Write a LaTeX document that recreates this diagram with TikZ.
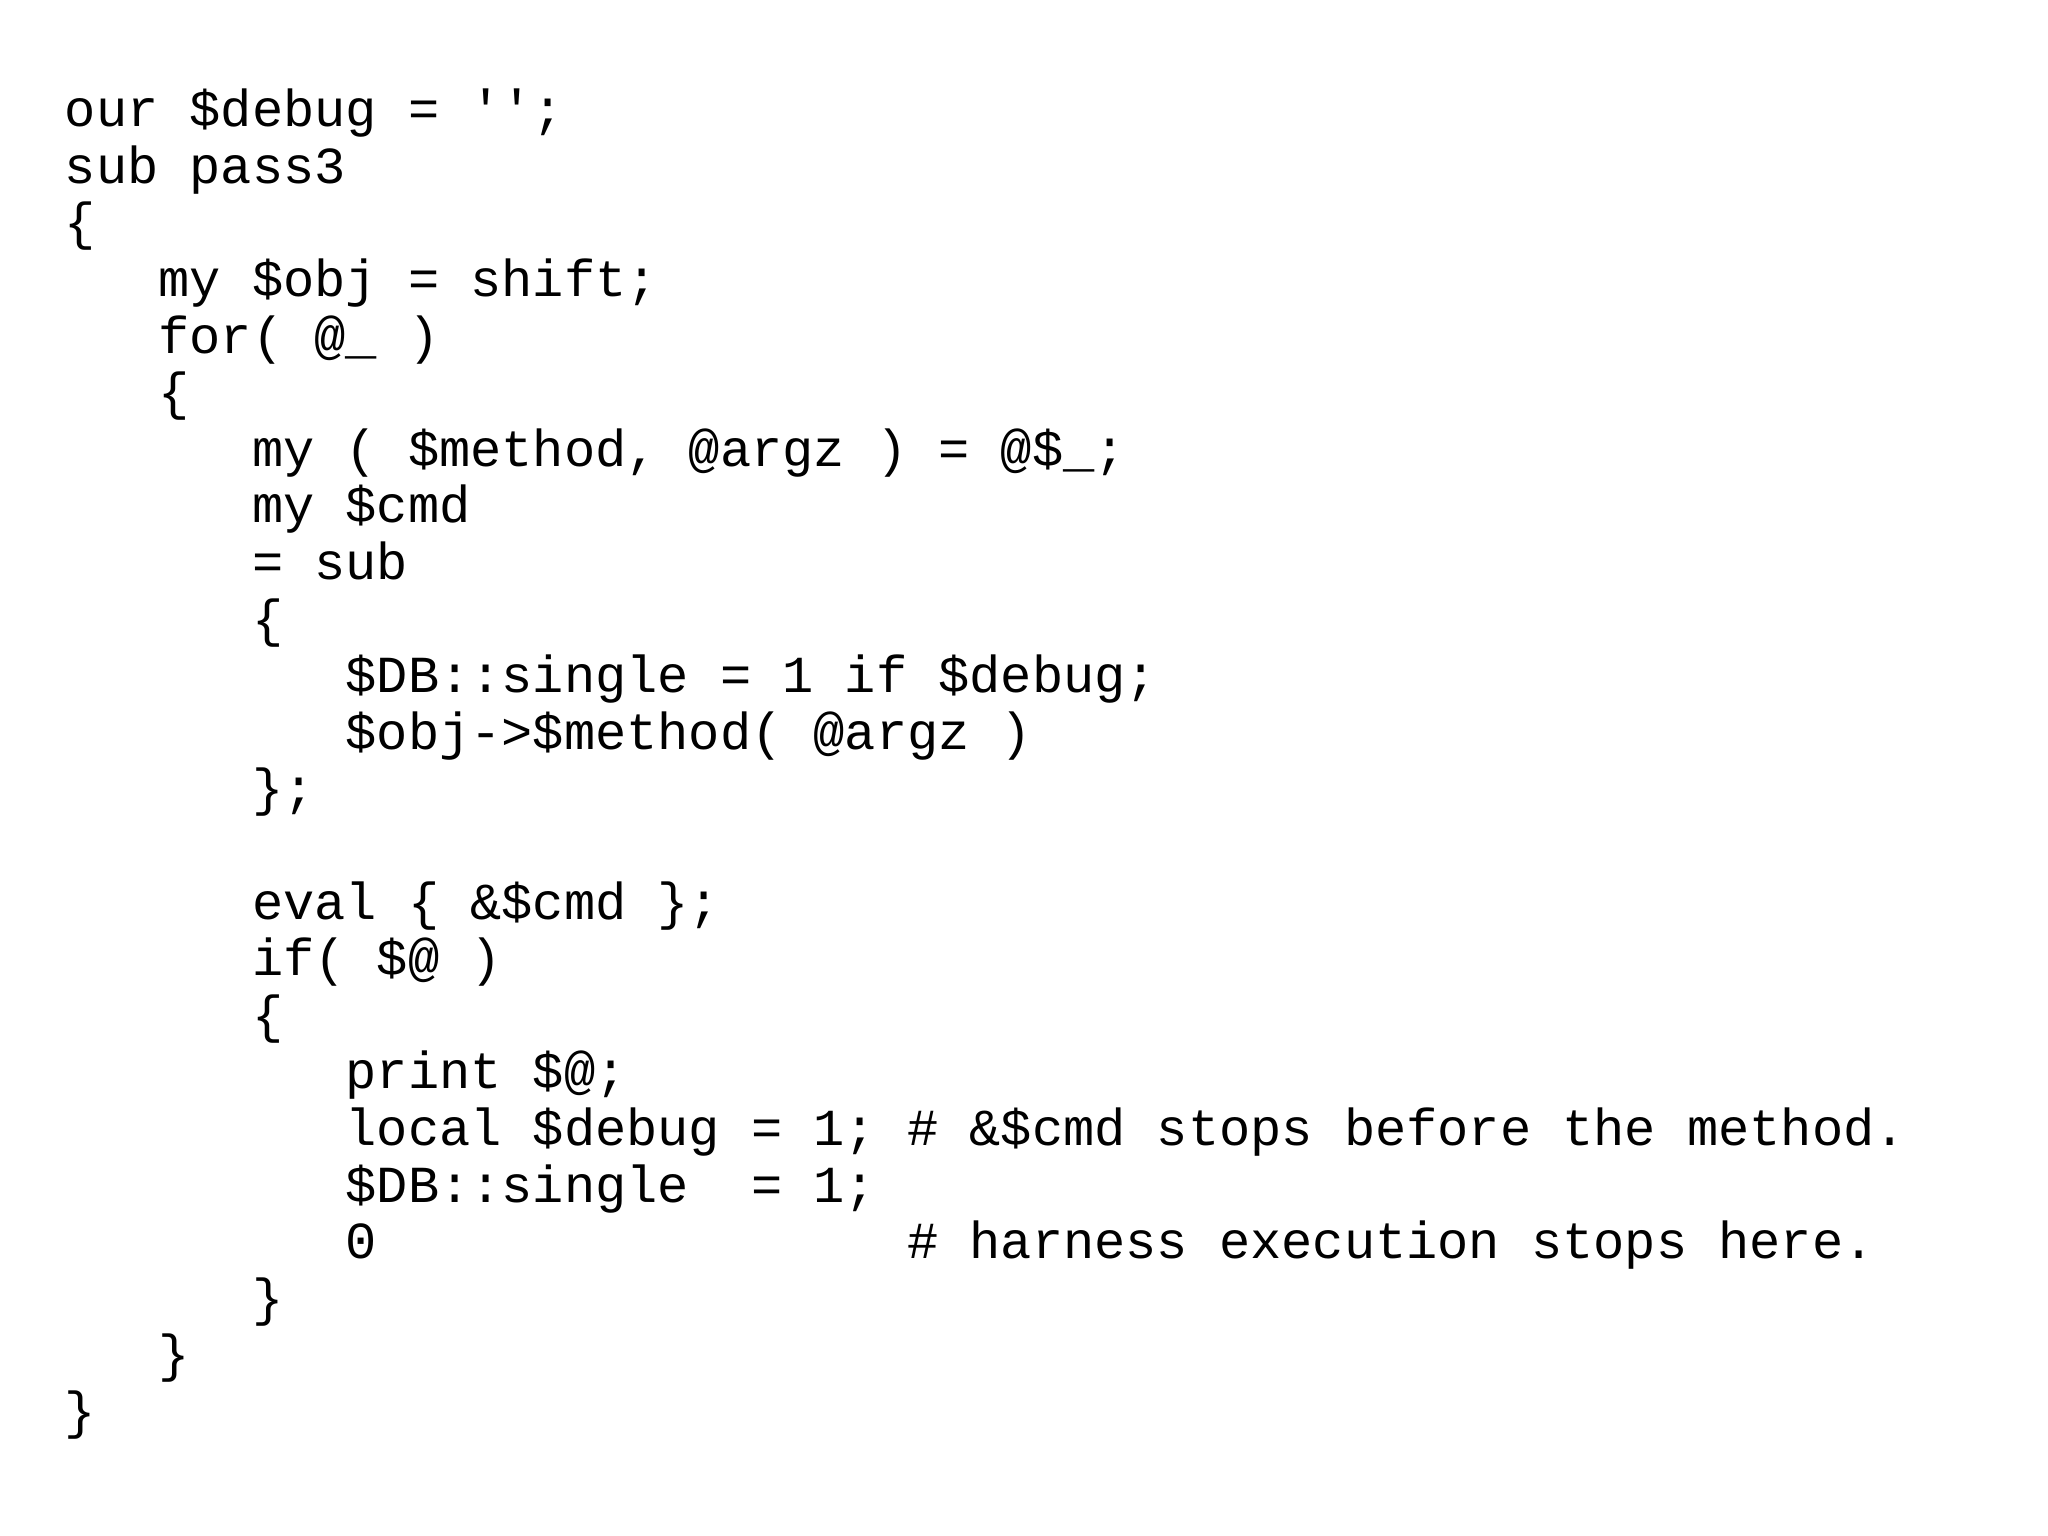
\documentclass[tikz,border=0pt]{standalone}
\usepackage{fontspec}
\setmonofont{Liberation Mono}
\begin{document}
\begin{tikzpicture}[x=1pt,y=1pt,code/.style={anchor=base west,inner sep=0pt,font=\fontsize{26}{28}\ttfamily}]
\useasboundingbox (0,0) rectangle (1024,-767.5);
\def\cw{15.6}\def\lh{28.3}\def\x0{32.2}\def\y0{63.3}
\foreach \c/\t [count=\i from 0] in {
0/{our \$debug = \string'\string';},
0/{sub pass3},
0/{\{},
3/{my \$obj = shift;},
3/{for( @\_ )},
3/{\{},
6/{my ( \$method, @argz ) = @\$\_;},
6/{my \$cmd},
6/{= sub},
6/{\{},
9/{\$DB::single = 1 if \$debug;},
9/{\$obj->\$method( @argz )},
6/{\};},
0/{},
6/{eval \{ \&\$cmd \};},
6/{if( \$@ )},
6/{\{},
9/{print \$@;},
9/{local \$debug = 1; \# \&\$cmd stops before the method.},
9/{\$DB::single\ \ = 1;},
9/{0\ \ \ \ \ \ \ \ \ \ \ \ \ \ \ \ \ \# harness execution stops here.},
6/{\}},
3/{\}},
0/{\}}}
{\node[code] (l\i) at ({\x0+\c*\cw},{-\y0-\i*\lh}) {\t};}
\end{tikzpicture}
\end{document}
